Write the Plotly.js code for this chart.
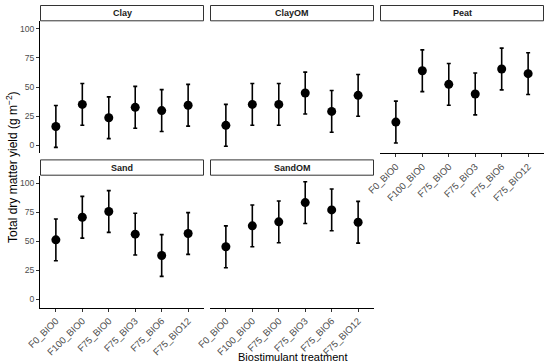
<!DOCTYPE html>
<html>
<head>
<meta charset="utf-8">
<script src="https://cdn.plot.ly/plotly-3.0.1.min.js"></script>
<style>html,body{margin:0;padding:0;background:#fff;}#chart{width:550px;height:364px;}</style>
</head>
<body>
<div id="chart"></div>
<script>
const treatments = ["F0_BIO0", "F100_BIO0", "F75_BIO0", "F75_BIO3", "F75_BIO6", "F75_BIO12"];
const panels = ["Clay", "ClayOM", "Peat", "Sand", "SandOM"];
const clayMean   = [16, 35, 23.5, 32.5, 29.7, 34.3];
const clayOMMean = [17, 35, 35, 44.8, 29, 42.8];
const peatMean   = [19.8, 64, 52.3, 44, 65.5, 61.5];
const sandMean   = [51.3, 70.8, 75.7, 56.2, 37.8, 56.8];
const sandOMMean = [45.3, 63.4, 66.8, 83.4, 77.1, 66.5];
const errHalf    = [18, 18, 18, 18, 18, 18];
const yTicks = [0, 25, 50, 75, 100];

const means = [clayMean, clayOMMean, peatMean, sandMean, sandOMMean];

const W = 550, H = 364;
const px = v => v / W;
const py = v => 1 - v / H;

// panel pixel boxes [x0, x1, y0(top), y1(bottom)]
const boxes = [
  [40, 204, 21.3, 153.4],
  [210, 374, 21.3, 153.4],
  [380, 544, 21.3, 153.4],
  [40, 204, 175.7, 307.7],
  [210, 374, 175.7, 307.7]
];
const showX = [false, false, true, true, true];
const showY = [true, false, false, true, false];

const fam = "Liberation Sans, Arial, sans-serif";
const yTickFont = {family: fam, size: 8.6, color: "#4d4d4d"};
const xTickFont = {family: fam, size: 9.5, color: "#4d4d4d"};

const data = [];
const layout = {
  width: W, height: H,
  margin: {l: 0, r: 0, t: 0, b: 0},
  paper_bgcolor: "#ffffff",
  plot_bgcolor: "#ffffff",
  showlegend: false,
  shapes: [],
  annotations: []
};

panels.forEach((name, i) => {
  const n = i + 1;
  const xa = "x" + (n === 1 ? "" : n);
  const ya = "y" + (n === 1 ? "" : n);
  data.push({
    type: "scatter", mode: "markers",
    x: treatments, y: means[i],
    xaxis: xa, yaxis: ya,
    marker: {color: "#000000", size: 9},
    error_y: {type: "data", array: errHalf, visible: true, color: "#000000", thickness: 1.6, width: 2},
    hoverinfo: "x+y"
  });
  const b = boxes[i];
  layout["xaxis" + (n === 1 ? "" : n)] = {
    domain: [px(b[0]), px(b[1])],
    anchor: ya,
    type: "category",
    categoryorder: "array", categoryarray: treatments,
    range: [-0.6, 5.6],
    showgrid: false, zeroline: false,
    showline: showX[i], linecolor: "#000000", linewidth: 1,
    ticks: showX[i] ? "outside" : "", ticklen: 3, tickcolor: "#333333", tickwidth: 1,
    showticklabels: showX[i], tickangle: -45, tickfont: xTickFont,
    fixedrange: true
  };
  layout["yaxis" + (n === 1 ? "" : n)] = {
    domain: [py(b[3]), py(b[2])],
    anchor: xa,
    range: [-7.2, 106.6],
    tickvals: yTicks, ticktext: yTicks.map(String),
    showgrid: false, zeroline: false,
    showline: showY[i], linecolor: "#000000", linewidth: 1,
    ticks: showY[i] ? "outside" : "", ticklen: 3, tickcolor: "#333333", tickwidth: 1,
    showticklabels: showY[i], tickfont: yTickFont,
    fixedrange: true
  };
  // strip
  const sTop = b[2] - 16.3, sBot = b[2];
  layout.shapes.push({
    type: "rect", xref: "paper", yref: "paper",
    x0: px(b[0] + 0.5), x1: px(b[1] - 0.5), y0: py(sBot - 0.5), y1: py(sTop + 0.5),
    line: {color: "#333333", width: 1}, fillcolor: "#ffffff"
  });
  layout.annotations.push({
    xref: "paper", yref: "paper",
    x: px((b[0] + b[1]) / 2), y: py((sTop + sBot) / 2),
    text: "<b>" + name + "</b>", showarrow: false,
    xanchor: "center", yanchor: "middle",
    font: {family: fam, size: 9, color: "#1a1a1a"}
  });
});

layout.annotations.push({
  xref: "paper", yref: "paper", x: px(12), y: py(167),
  text: "Total dry matter yield (g m<sup>\u22122</sup>)", showarrow: false,
  textangle: -90, xanchor: "center", yanchor: "middle",
  font: {family: fam, size: 12, color: "#000000"}
});
layout.annotations.push({
  xref: "paper", yref: "paper", x: px(292), y: py(357),
  text: "Biostimulant treatment", showarrow: false,
  xanchor: "center", yanchor: "middle",
  font: {family: fam, size: 11, color: "#000000"}
});

Plotly.newPlot("chart", data, layout, {displayModeBar: false, staticPlot: true});
</script>
</body>
</html>
